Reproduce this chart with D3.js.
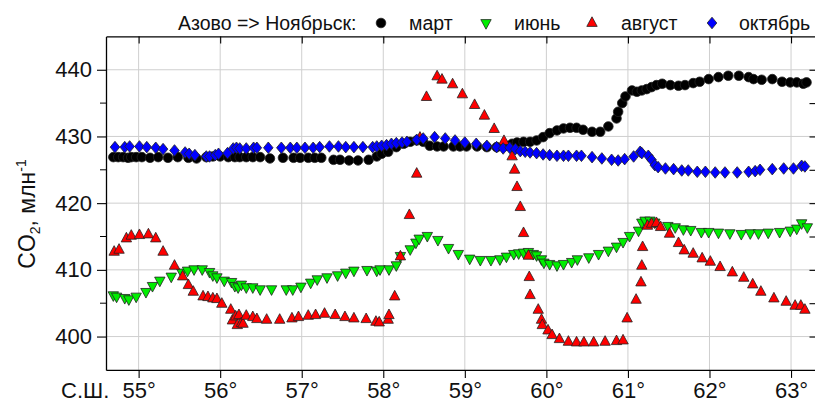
<!DOCTYPE html>
<html>
<head>
<meta charset="utf-8">
<script src="https://cdn.jsdelivr.net/npm/d3@7"></script>
<style>
  html, body { margin: 0; padding: 0; background: #fff; }
  svg { display: block; font-family: Arial, "Liberation Sans", sans-serif; }
</style>
</head>
<body>
<svg id="chart" width="815" height="406"></svg>
<script>
// CO2 along the route Azovo -> Noyabrsk: [latitude °N, CO2 ppm]
const march = [
  [54.69,426.9],[54.75,426.9],[54.81,426.9],[54.87,426.8],[54.91,426.9],[54.97,426.9],
  [55.04,426.9],[55.14,426.8],[55.24,426.9],[55.36,426.8],[55.48,426.9],[55.61,426.8],
  [55.71,426.7],[55.83,426.9],[55.91,427.0],[56.00,427.0],[56.10,426.9],[56.18,426.9],
  [56.24,426.9],[56.32,426.9],[56.40,426.9],[56.49,426.9],[56.61,426.7],[56.77,426.8],
  [56.90,426.8],[56.98,426.8],[57.08,426.8],[57.16,426.8],[57.24,426.8],[57.39,426.5],
  [57.47,426.5],[57.58,426.4],[57.69,426.4],[57.82,426.5],[57.92,427.0],[57.98,427.4],
  [58.06,427.7],[58.16,428.4],[58.25,428.9],[58.33,429.2],[58.41,429.4],[58.49,429.2],
  [58.57,428.6],[58.66,428.5],[58.74,428.5],[58.86,428.5],[58.94,428.5],[59.02,428.5],
  [59.15,428.5],[59.27,428.4],[59.39,428.4],[59.51,428.6],[59.58,428.9],[59.64,429.1],
  [59.72,429.2],[59.80,429.2],[59.88,429.4],[59.96,429.9],[60.04,430.5],[60.13,430.9],
  [60.21,431.2],[60.29,431.3],[60.37,431.3],[60.45,431.0],[60.56,430.7],[60.66,430.7],
  [60.76,431.5],[60.86,432.7],[60.88,433.7],[60.93,435.0],[60.97,436.0],[61.05,436.9],
  [61.11,436.7],[61.17,436.9],[61.23,437.1],[61.29,437.4],[61.35,437.7],[61.42,437.9],
  [61.52,437.7],[61.62,437.6],[61.70,437.7],[61.80,438.0],[61.88,438.2],[61.99,438.6],
  [62.11,438.9],[62.23,439.1],[62.36,439.1],[62.48,438.9],[62.54,438.6],[62.64,438.5],
  [62.77,438.6],[62.89,438.2],[62.99,438.1],[63.07,438.1],[63.15,437.9],[63.19,438.1]
];

const june = [
  [54.69,406.2],[54.73,406.0],[54.83,405.8],[54.88,405.6],[54.97,406.0],[55.09,406.7],
  [55.17,407.6],[55.26,408.4],[55.40,409.0],[55.53,409.6],[55.60,409.9],[55.68,410.1],
  [55.78,410.1],[55.87,409.7],[55.91,409.2],[55.96,408.9],[56.05,408.4],[56.14,408.2],
  [56.18,407.6],[56.22,407.4],[56.26,407.8],[56.32,407.4],[56.40,407.4],[56.49,407.1],
  [56.63,407.1],[56.81,407.1],[56.89,407.1],[56.99,407.5],[57.11,408.1],[57.19,408.6],
  [57.31,408.9],[57.44,409.2],[57.54,409.6],[57.64,409.9],[57.80,410.0],[57.92,409.9],
  [57.96,410.1],[58.07,410.1],[58.16,410.7],[58.21,412.1],[58.33,413.1],[58.40,414.1],
  [58.44,414.7],[58.54,415.1],[58.67,414.5],[58.80,413.3],[58.92,412.4],[59.06,411.7],
  [59.19,411.5],[59.32,411.5],[59.43,411.6],[59.51,412.0],[59.60,412.4],[59.66,412.5],
  [59.72,412.6],[59.78,412.7],[59.84,412.4],[59.88,412.2],[59.94,411.6],[59.97,411.1],
  [60.04,410.9],[60.13,410.7],[60.21,410.9],[60.31,411.2],[60.38,411.6],[60.52,411.9],
  [60.64,412.4],[60.76,412.9],[60.86,413.5],[60.94,414.2],[61.02,415.1],[61.13,415.9],
  [61.17,417.1],[61.21,417.4],[61.27,417.4],[61.33,417.1],[61.49,416.6],[61.58,416.4],
  [61.68,416.1],[61.77,416.0],[61.90,415.7],[61.99,415.7],[62.11,415.6],[62.25,415.5],
  [62.39,415.4],[62.50,415.5],[62.60,415.5],[62.72,415.6],[62.86,415.7],[62.99,415.9],
  [63.07,416.2],[63.13,417.0],[63.20,416.4]
];

const august = [
  [54.70,412.7],[54.76,413.0],[54.85,414.7],[54.91,415.1],[55.01,415.2],[55.12,415.3],
  [55.21,414.7],[55.30,412.7],[55.44,410.6],[55.54,409.0],[55.61,407.7],[55.67,406.7],
  [55.79,406.0],[55.85,405.9],[55.91,405.7],[55.96,405.6],[56.02,404.9],[56.13,404.0],
  [56.15,402.4],[56.19,403.0],[56.21,401.7],[56.23,403.2],[56.26,402.0],[56.28,401.9],
  [56.32,403.1],[56.40,402.9],[56.45,402.6],[56.57,402.5],[56.73,402.5],[56.88,402.7],
  [56.96,402.9],[57.08,403.1],[57.17,403.2],[57.28,403.4],[57.41,403.2],[57.53,402.9],
  [57.64,402.7],[57.79,402.6],[57.91,402.2],[57.95,402.1],[58.06,402.5],[58.07,403.2],
  [58.14,406.0],[58.21,412.0],[58.32,418.2],[58.41,424.4],[58.45,429.8],[58.53,435.9],
  [58.66,439.0],[58.72,438.5],[58.85,437.8],[58.97,436.3],[59.12,434.7],[59.24,433.1],
  [59.36,431.1],[59.48,429.3],[59.58,427.0],[59.61,425.0],[59.64,422.4],[59.68,419.4],
  [59.72,415.5],[59.78,412.1],[59.79,408.9],[59.80,406.2],[59.90,404.0],[59.94,402.5],
  [59.95,401.7],[60.02,400.9],[60.07,400.2],[60.16,399.6],[60.27,399.2],[60.37,399.1],
  [60.46,399.1],[60.58,399.1],[60.72,399.2],[60.86,399.3],[60.94,399.4],[60.99,402.7],
  [61.10,405.5],[61.16,408.1],[61.17,410.6],[61.18,413.4],[61.24,416.6],[61.29,416.9],
  [61.35,417.0],[61.40,416.4],[61.51,415.4],[61.62,414.0],[61.69,412.9],[61.80,412.4],
  [61.91,411.7],[62.01,411.2],[62.13,410.4],[62.28,409.6],[62.42,408.8],[62.53,407.8],
  [62.63,406.7],[62.79,405.7],[62.94,405.2],[63.05,404.6],[63.12,404.6],[63.17,404.0]
];

const october = [
  [54.71,428.4],[54.83,428.4],[54.89,428.5],[55.01,428.5],[55.10,428.4],[55.21,428.3],
  [55.30,428.1],[55.44,427.9],[55.57,427.6],[55.62,427.4],[55.69,427.2],[55.83,427.0],
  [55.87,427.0],[55.94,427.2],[55.98,427.4],[56.09,427.5],[56.16,428.2],[56.20,428.3],
  [56.24,428.2],[56.32,428.2],[56.41,428.3],[56.45,428.3],[56.59,428.3],[56.75,428.3],
  [56.86,428.3],[56.94,428.3],[57.04,428.3],[57.14,428.3],[57.22,428.4],[57.34,428.5],
  [57.45,428.5],[57.54,428.4],[57.64,428.4],[57.75,428.4],[57.87,428.4],[57.92,428.5],
  [57.98,428.6],[58.04,428.7],[58.10,428.9],[58.16,429.0],[58.23,429.1],[58.29,429.2],
  [58.41,429.5],[58.49,429.7],[58.63,429.9],[58.76,429.7],[58.88,429.4],[59.00,429.1],
  [59.14,428.9],[59.27,428.6],[59.39,428.4],[59.47,428.2],[59.55,428.3],[59.62,428.1],
  [59.68,427.8],[59.74,427.7],[59.80,427.6],[59.88,427.5],[59.96,427.3],[60.04,427.2],
  [60.13,427.1],[60.21,427.1],[60.27,427.1],[60.37,427.1],[60.43,427.1],[60.56,426.9],
  [60.68,426.7],[60.80,426.5],[60.88,426.4],[60.96,426.6],[61.07,427.0],[61.15,427.7],
  [61.17,427.5],[61.25,427.1],[61.29,426.5],[61.33,425.7],[61.37,425.4],[61.46,425.2],
  [61.56,425.1],[61.66,424.9],[61.74,424.9],[61.85,424.7],[61.95,424.7],[62.07,424.6],
  [62.19,424.6],[62.34,424.6],[62.48,424.7],[62.56,424.8],[62.62,425.0],[62.77,425.1],
  [62.91,425.2],[63.03,425.2],[63.13,425.6],[63.17,425.5]
];

const xTicks = [55, 56, 57, 58, 59, 60, 61, 62, 63];
const yTicks = [400, 410, 420, 430, 440];
const yMinorTicks = [405, 415, 425, 435];
const seriesNames = ["март", "июнь", "август", "октябрь"];
const seriesColors = ["#000000", "#00ee00", "#ff0000", "#0000ff"];
const legendTitle = "Азово => Ноябрьск:";

const svg = d3.select("#chart");
const plot = { left: 106, right: 815.5, top: 36.4, bottom: 369.9 };

const x = d3.scaleLinear().domain([54.6, 63.3]).range([plot.left, plot.right]);
const y = d3.scaleLinear().domain([395, 445]).range([plot.bottom, plot.top]);

// marker shapes
const shapes = {
  circle: d3.symbol().type(d3.symbolCircle).size(Math.PI * 4.8 * 4.8)(),
  up: "M0,-6.2L5.2,3.4L-5.2,3.4Z",
  down: "M0,6.2L5.2,-3.4L-5.2,-3.4Z",
  diamond: "M0,-5.8L4.8,0L0,5.8L-4.8,0Z"
};
const seriesShapes = [shapes.circle, shapes.down, shapes.up, shapes.diamond];
const seriesData = [march, june, august, october];

// grid
const grid = svg.append("g").attr("class", "grid");
grid.selectAll("line.gx").data(xTicks).join("line")
  .attr("x1", d => x(d)).attr("x2", d => x(d))
  .attr("y1", plot.top).attr("y2", plot.bottom)
  .attr("stroke", "#cfcfcf").attr("stroke-width", 1);
grid.selectAll("line.gy").data(yTicks).join("line")
  .attr("x1", plot.left).attr("x2", plot.right)
  .attr("y1", d => y(d)).attr("y2", d => y(d))
  .attr("stroke", "#cfcfcf").attr("stroke-width", 1);

// data points, later series on top
seriesData.forEach((data, i) => {
  svg.append("g").selectAll("path").data(data).join("path")
    .attr("d", seriesShapes[i])
    .attr("transform", d => `translate(${x(d[0])},${y(d[1])})`)
    .attr("fill", seriesColors[i])
    .attr("stroke", "#222")
    .attr("stroke-width", 0.8);
});

// axes
const tickFont = "22px";
const bottomAxis = d3.axisBottom(x).tickValues(xTicks).tickSize(8).tickPadding(4).tickSizeOuter(0)
  .tickFormat(d => d + "°");
const gB = svg.append("g").attr("transform", `translate(0,${plot.bottom})`).call(bottomAxis);
gB.selectAll("text").attr("font-size", tickFont).attr("fill", "#111");

const leftAxis = d3.axisLeft(y).tickValues(yTicks).tickSize(9).tickSizeOuter(0);
const gL = svg.append("g").attr("transform", `translate(${plot.left},0)`).call(leftAxis);
gL.selectAll("text").attr("font-size", tickFont).attr("fill", "#111").attr("x", -14);
gL.selectAll("line.minor").data(yMinorTicks).join("line").attr("class", "minor")
  .attr("x1", -6).attr("x2", 0).attr("y1", d => y(d)).attr("y2", d => y(d))
  .attr("stroke", "#000");

const topAxis = d3.axisTop(x).tickValues(xTicks).tickSize(-7).tickSizeOuter(0).tickFormat("");
svg.append("g").attr("transform", `translate(0,${plot.top})`).call(topAxis);

const rightAxis = d3.axisRight(y).tickValues(yTicks.concat(yMinorTicks)).tickSize(-6).tickSizeOuter(0).tickFormat("");
svg.append("g").attr("transform", `translate(${plot.right},0)`).call(rightAxis);

svg.selectAll(".domain").attr("stroke", "#000").attr("stroke-width", 1.3);
svg.selectAll(".tick line").attr("stroke", "#000").attr("stroke-width", 1.1);

// latitude marker at left of x labels
svg.append("text").attr("x", 61).attr("y", 397.5)
  .attr("font-size", tickFont).attr("fill", "#111").text("С.Ш.");

// y-axis title
const yt = svg.append("text")
  .attr("transform", "translate(35,214) rotate(-90)")
  .attr("text-anchor", "middle")
  .attr("font-size", "23px").attr("fill", "#111");
yt.append("tspan").text("CO");
yt.append("tspan").attr("font-size", "14px").attr("dy", "5").text("2");
yt.append("tspan").attr("dy", "-5").text(", млн");
yt.append("tspan").attr("font-size", "14px").attr("dy", "-9").text("-1");

// legend
const lg = svg.append("g").attr("font-size", "19.5px").attr("fill", "#111");
lg.append("text").attr("x", 178).attr("y", 29.5).text(legendTitle);
const legendSymX = [381, 486, 592, 712];
const legendTextX = [409, 514, 621, 739];
seriesNames.forEach((name, i) => {
  lg.append("path").attr("d", seriesShapes[i])
    .attr("transform", `translate(${legendSymX[i]},23)`)
    .attr("fill", seriesColors[i]).attr("stroke", "#222").attr("stroke-width", 0.8);
  lg.append("text").attr("x", legendTextX[i]).attr("y", 29.5).text(name);
});
</script>
</body>
</html>
